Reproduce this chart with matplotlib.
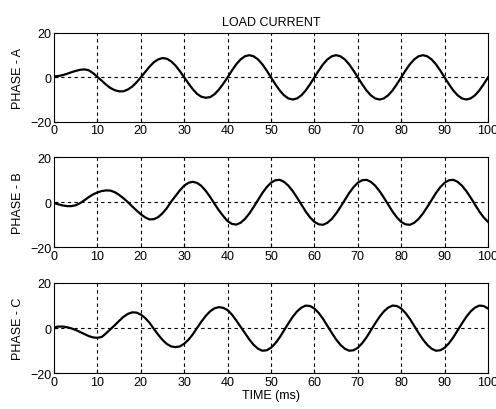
import numpy as np
import matplotlib
matplotlib.use("Agg")
import matplotlib.pyplot as plt

plt.rcParams['font.family'] = ['Liberation Sans', 'DejaVu Sans']

# time axis, 1 ms steps
time_ms = list(range(0, 101))

# one steady-state cycle of each phase (20 ms), repeated after the start transient
cyc_a = [0, 3.1, 5.9, 8.1, 9.5, 10.0, 9.5, 8.1, 5.9, 3.1,
         0, -3.1, -5.9, -8.1, -9.5, -10.0, -9.5, -8.1, -5.9, -3.1]
cyc_b = [-8.7, -9.8, -10.0, -9.1, -7.4, -5.0, -2.1, 1.0, 4.1, 6.7,
         8.7, 9.8, 10.0, 9.1, 7.4, 5.0, 2.1, -1.0, -4.1, -6.7]
cyc_c = [8.7, 6.7, 4.1, 1.0, -2.1, -5.0, -7.4, -9.1, -10.0, -9.8,
         -8.7, -6.7, -4.1, -1.0, 2.1, 5.0, 7.4, 9.1, 10.0, 9.8]

phase_a = [0.4, 0.6, 1.0, 1.6, 2.3, 2.9, 3.4, 3.6, 3.2, 1.9,
           0.2, -1.5, -3.3, -4.8, -5.8, -6.3, -6.3, -5.5, -4.2, -2.3,
           0.0, 2.4, 4.8, 6.8, 8.1, 8.7, 8.4, 7.2, 5.3, 2.8,
           0.0, -2.8, -5.4, -7.5, -8.8, -9.2, -8.9, -7.6, -5.5, -2.9] \
    + cyc_a * 3 + [0.0]

phase_b = [-0.3, -0.9, -1.4, -1.7, -1.7, -1.3, -0.4, 0.9, 2.3, 3.5,
           4.4, 5.0, 5.3, 5.2, 4.5, 3.3, 1.8, 0.1, -1.8, -3.6,
           -5.3, -6.7, -7.6, -7.5, -6.6, -4.9, -2.6, 0.3, 2.8, 5.3,
           7.4, 8.7, 9.1, 8.6, 7.2, 5.0, 2.3, -0.7, -3.6, -6.1,
           -8.4, -9.6, -9.9] + cyc_b[3:] + cyc_b * 2 + [-8.7]

phase_c = [0.3, 0.7, 0.7, 0.4, -0.1, -0.8, -1.7, -2.6, -3.5, -4.1,
           -4.3, -3.9, -2.3, -0.5, 1.3, 3.2, 5.0, 6.3, 7.0, 6.9,
           6.0, 4.5, 2.4, -0.3, -2.9, -5.2, -7.0, -8.1, -8.4, -8.1,
           -6.9, -5.1, -2.7, 0.2, 3.0, 5.5, 7.5, 8.8, 9.3, 9.0,
           8.0, 6.0, 3.4, 0.6, -2.2] + cyc_c[5:] + cyc_c * 2 + [8.7]

series = [phase_a, phase_b, phase_c]
ylabels = ["PHASE - A", "PHASE - B", "PHASE - C"]
xticks = list(range(0, 101, 10))
yticks = [-20, 0, 20]

W, H = 496, 410
fig = plt.figure(figsize=(W / 100, H / 100), dpi=100)

# axes boxes in pixels: (top, bottom)
boxes = [(34.0, 122.7), (158.3, 248.3), (284.0, 374.3)]
left, right = 54.0, 488.0

for i, (ys, lab) in enumerate(zip(series, ylabels)):
    top, bot = boxes[i]
    ax = fig.add_axes([left / W, 1 - bot / H, (right - left) / W, (bot - top) / H])
    for xv in xticks[1:-1]:
        ax.axvline(xv, color='black', lw=0.8, ls=(0, (3, 3)), zorder=1)
    ax.axhline(0, color='black', lw=0.8, ls=(0, (3, 3)), zorder=1)
    ax.plot(time_ms, ys, color='black', lw=1.6, zorder=3)
    ax.set_xlim(0, 100)
    ax.set_ylim(-20, 20)
    ax.set_xticks(xticks)
    ax.set_yticks(yticks)
    ax.tick_params(direction='in', length=3, labelsize=9, pad=2, colors='black')
    for s in ax.spines.values():
        s.set_linewidth(0.8)
    ax.set_ylabel(lab, fontsize=9, labelpad=4)
    if i == 0:
        ax.set_title("LOAD CURRENT", fontsize=9, pad=6)
    if i == 2:
        ax.set_xlabel("TIME (ms)", fontsize=9, labelpad=1)

fig.savefig("out.png", dpi=100)
